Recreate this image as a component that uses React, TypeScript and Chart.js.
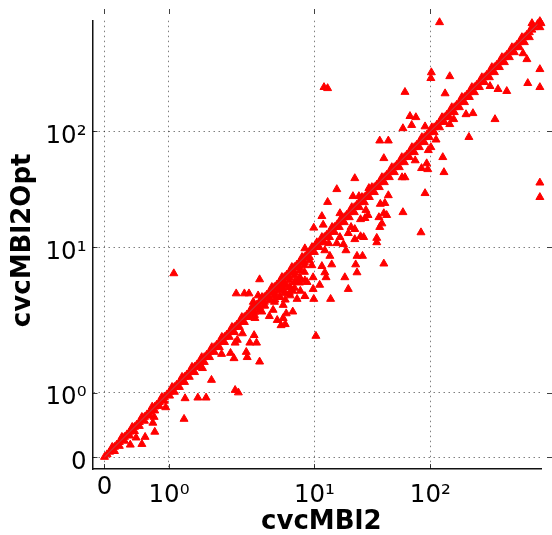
import React, { useEffect, useRef } from "react";
import { Chart, Scale, registerables } from "chart.js";

Chart.register(...registerables);

const tickValues = [0, 1, 10, 100];
const tickLabels = ["0", "10⁰", "10¹", "10²"];
const axisMin = -0.186;
const axisMax = 900;

// points lying on the diagonal (cvcMBl2 == cvcMBl2Opt)
const diagonalValues = [
  0, 0.04, 0.08, 0.12, 0.155, 0.19, 0.23, 0.27, 0.31, 0.35, 0.39, 0.43, 0.465, 0.5, 0.54, 0.58,
  0.62, 0.66, 0.7, 0.74, 0.78, 0.81, 0.85, 0.89, 0.93, 0.97, 1.01, 1.05,
  1.09, 1.13, 1.18, 1.23, 1.28, 1.33, 1.38, 1.44, 1.5, 1.56, 1.62, 1.68, 1.75, 1.82, 1.9, 1.97,
  2.05, 2.13, 2.22, 2.31, 2.41, 2.5, 2.6, 2.71, 2.82, 2.93, 3.05, 3.17, 3.3, 3.44, 3.58, 3.72,
  3.87, 4.03, 4.2, 4.36, 4.53, 4.71, 4.9, 5.1, 5.31, 5.53, 5.75, 5.98, 6.22, 6.47, 6.73, 7.0,
  7.29, 7.59, 7.9, 8.22, 8.54, 8.88, 9.25, 9.62, 10, 10.5,
  11, 11.6, 12.2, 12.8, 13.5, 14.2, 14.9, 15.7, 16.4, 17.2, 18.1, 19, 20, 21, 22.1, 23.2, 24.4,
  25.7, 27, 28.4, 29.8, 31.3, 32.9, 34.6, 36.3, 38.2, 40.1, 42.1, 44.3, 46.5, 48.9, 51.4,
  54, 56.7, 59.7, 62.8, 65.9, 69.3, 72.8, 76.5, 80.4, 84.5, 88.8, 93.3, 98, 103, 108, 114, 120,
  126, 132, 139, 146, 153, 161, 169, 178, 187, 197, 207, 217, 228, 240, 252, 265, 278,
  292, 307, 323, 339, 357, 375, 394, 414, 435, 457, 480, 505, 530, 558, 586, 616, 647, 680,
  714, 751, 789, 840,
];

// points just above the diagonal
const upperX = [
  0.12, 0.27, 0.43, 0.58, 0.74, 0.89, 1.05, 1.23, 1.44, 1.68, 1.97, 2.31, 2.71, 3.17, 3.72, 4.36,
  5.1, 5.98, 7.0, 8.22, 9.62, 11.6, 14.2, 17.2, 21, 25.7, 31.3, 38.2, 46.5, 56.7, 69.3, 84.5,
  103, 126, 153, 187, 228, 278, 339, 414, 505, 616, 751,
];
const upperY = [
  0.155, 0.31, 0.465, 0.62, 0.78, 0.93, 1.09, 1.28, 1.5, 1.75, 2.05, 2.41, 2.82, 3.3, 3.87, 4.53,
  5.31, 6.22, 7.29, 8.54, 10, 12.2, 14.9, 18.1, 22.1, 27, 32.9, 40.1, 48.9, 59.7, 72.8, 88.8,
  108, 132, 161, 197, 240, 292, 357, 435, 530, 647, 789,
];

// points just under the diagonal
const nearX = [
  0.155, 0.23, 0.31, 0.39, 0.465, 0.54, 0.62, 0.7, 0.78, 0.85, 0.93, 1.01, 1.09, 1.18, 1.28, 1.38,
  1.5, 1.62, 1.75, 1.9, 2.05, 2.22, 2.41, 2.6, 2.82, 3.05, 3.3, 3.58, 3.87, 4.2, 4.53, 4.9, 5.31,
  5.75, 6.22, 6.73, 7.29, 7.9, 8.54, 9.25, 10, 11, 12.2, 13.5, 14.9, 16.4, 18.1, 20, 22.1, 24.4,
  27, 29.8, 32.9, 36.3, 40.1, 44.3, 48.9, 54, 59.7, 65.9, 72.8, 80.4, 88.8, 98, 108, 120, 132,
  146, 161, 178, 197, 217, 240, 265, 292, 323, 357, 394, 435, 480, 530, 586, 647, 714,
];
const nearY = [
  0.09, 0.17, 0.25, 0.33, 0.4, 0.48, 0.56, 0.64, 0.72, 0.79, 0.87, 0.95, 1.01, 1.09, 1.18, 1.28,
  1.38, 1.5, 1.62, 1.75, 1.9, 2.05, 2.22, 2.41, 2.6, 2.82, 3.05, 3.3, 3.58, 3.87, 4.2, 4.53, 4.9,
  5.31, 5.75, 6.22, 6.73, 7.29, 7.9, 8.54, 9.25, 10, 11, 12.2, 13.5, 14.9, 16.4, 18.1, 20, 22.1,
  24.4, 27, 29.8, 32.9, 36.3, 40.1, 44.3, 48.9, 54, 59.7, 65.9, 72.8, 80.4, 88.8, 98, 108, 120,
  132, 146, 161, 178, 197, 217, 240, 265, 292, 323, 357, 394, 435, 480, 530, 586, 647,
];

// the dense wedge under the diagonal between 3 and 10
const wedgeX = [
  3.87, 4.2, 4.53, 4.9, 5.31, 5.75, 6.22, 6.73, 7.29, 7.9, 8.54, 9.25,
  5.31, 5.75, 6.22, 6.73, 7.29, 7.9, 8.54, 6, 6.73, 7.29, 7.9,
];
const wedgeY = [
  3.41, 3.7, 3.98, 4.3, 4.67, 5.05, 5.47, 5.9, 6.4, 6.9, 7.5, 8.1,
  4.2, 4.55, 4.9, 5.3, 5.75, 6.2, 6.75, 5.3, 4.85, 5.25, 5.7,
];

// points away from the diagonal
const outlierX = [
  120, 102, 101, 147, 60.4, 66.7, 75, 69, 58, 134, 90, 203, 233, 361, 215, 327, 383, 456, 692,
  880, 880, 680, 630, 147, 159, 752, 880, 900, 880, 880, 880,
  12.1, 13, 36.6, 43.4, 39.7, 112, 101, 96, 128, 131, 93, 84, 95, 74, 57, 60.4, 90, 58, 83,
  22.3, 15.6, 13, 21.5, 24.2, 29.5, 43.4, 40.5, 37, 27.8, 29, 25, 27.3, 36, 39.7, 42, 38.2, 36.6,
  16.6, 11.6, 9.9, 11.9, 20.7, 22.3, 19.6, 22.3, 25, 26.6, 34.5, 34.5, 16.6, 15.6, 17.8, 18.7,
  12.3, 13.3, 8.6, 10.5, 23.3, 26, 22.7, 23.3, 39.7, 14.1, 11.6, 12.3, 9.8, 18.3, 12.6, 9.6,
  4.2, 2.9, 3.3, 3.55, 4.1, 3.8, 19.6, 13.8, 9.9, 10.3, 9.8, 8.6, 7.6, 7.1, 6.4, 6.1, 5.55, 4.9,
  5.2, 3.85, 3.6, 4, 2.85, 2.3, 2.65, 3.4, 3.45, 11.1, 8.9, 13.6,
  5.8, 6.3, 6.8, 7.4, 8, 5.35, 6.8, 8.6, 8, 6.3, 5.8, 7.1, 7.7, 4.55, 4.35, 3.9, 6.3, 6.1, 5.9, 6.3,
  1.96, 1.29, 1.58, 1.8, 1.27, 2.85, 3, 0.95, 0.75, 0.63, 0.78, 2.8, 4.2, 1.7, 2.95, 3.2,
  0.58, 0.49, 0.4, 0.77, 1.08,
];
const outlierY = [
  871, 322, 287, 298, 218, 135, 132, 113, 106, 212, 110, 140, 143, 127, 89, 245, 231, 222, 260,
  240, 343, 418, 470, 115, 127, 855, 890, 855, 789, 36, 27,
  240, 235, 83, 83, 58.5, 84.6, 72.8, 68.6, 59.7, 44.3, 52.8, 48, 47, 56, 40, 40, 29.2, 20, 13.4,
  39.3, 31.6, 24.5, 27.5, 27.5, 32.3, 28, 24, 23.6, 20.9, 18.9, 17.4, 17.8, 18.1, 19.6, 18.9, 16, 14.9,
  19.6, 18.5, 14.7, 15.6, 14.9, 14.3, 13.2, 11.7, 12.4, 12.2, 12, 11, 12.2, 10.8, 10.6, 9.5,
  9.5, 10.8, 9.8, 11, 8.7, 8.7, 7.6, 6.7, 7.7, 7.6, 7.4, 6.7, 6.2, 6.2, 6.2, 7.5,
  6, 4.8, 4.8, 4.8, 4.65, 4.2, 5.15, 4.4, 4.4, 2.45, 5.15, 4.6, 4.4, 3.6, 3.5, 4, 3.15, 3.35,
  3.7, 2.48, 2.2, 2.2, 2.2, 1.84, 1.87, 1.9, 1.75, 5.5, 5.75, 8.7,
  4.53, 4.8, 5.3, 5.75, 5, 4.35, 4.65, 5.9, 6.1, 5.5, 5.2, 5, 5.85, 3.95, 3.6, 3.25, 4.35, 3.25, 2.9, 2.95,
  1.22, 0.91, 0.92, 0.92, 0.59, 1.04, 1, 0.77, 0.53, 0.31, 0.39, 1.72, 1.63, 1.47, 2.3, 2.55,
  0.2, 0.3, 0.19, 0.62, 6.6,
];

function axisPosition(v: number): number {
  if (v < 1) return v * 64.5;
  if (v < 10) return 64.5 + 145.5 * Math.log10(v);
  return 210 + 116 * (Math.log10(v) - 1);
}

class DecadeScale extends Scale {
  static id = "decade";
  static defaults = {};
  determineDataLimits() {
    this.min = (this.options as any).min;
    this.max = (this.options as any).max;
  }
  buildTicks() {
    return tickValues.map((value) => ({ value }));
  }
  getLabelForValue(v: number) {
    return String(v);
  }
  getPixelForValue(v: number) {
    const lo = axisPosition(this.min);
    const hi = axisPosition(this.max);
    return this.getPixelForDecimal((axisPosition(v) - lo) / (hi - lo));
  }
  getValueForPixel() {
    return 0;
  }
}
Chart.register(DecadeScale as any);

const tickMarks = {
  id: "tickMarks",
  afterDatasetsDraw(chart: any) {
    const { ctx, chartArea, scales } = chart;
    ctx.save();
    ctx.strokeStyle = "#000";
    ctx.globalAlpha = 0.75;
    ctx.lineWidth = 1;
    for (const v of tickValues) {
      const px = Math.round(scales.x.getPixelForValue(v)) + 0.5;
      const py = Math.round(scales.y.getPixelForValue(v)) + 0.5;
      ctx.beginPath();
      ctx.moveTo(px, chartArea.bottom);
      ctx.lineTo(px, chartArea.bottom - 5);
      ctx.moveTo(px, 9);
      ctx.lineTo(px, 14);
      ctx.moveTo(chartArea.left, py);
      ctx.lineTo(chartArea.left + 5, py);
      ctx.moveTo(547, py);
      ctx.lineTo(552, py);
      ctx.stroke();
    }
    ctx.restore();
  },
};

const toPoints = (xs: number[], ys: number[]) => xs.map((x, i) => ({ x, y: ys[i] }));

export default function App() {
  const ref = useRef<HTMLCanvasElement>(null);
  useEffect(() => {
    const grid = {
      color: "rgba(0,0,0,0.5)",
      lineWidth: 1,
      drawTicks: false,
    };
    const border = { display: true, color: "#111", width: 1.5, dash: [1.5, 3.5] };
    const family = "'DejaVu Sans'";
    const titleFont = { family, size: 26, weight: "bold" as const, lineHeight: 1 };
    const tickCb = (v: number) => tickLabels[tickValues.indexOf(v)];
    const markerStyle = {
      type: "scatter" as const,
      pointStyle: "triangle",
      pointRadius: 4.6,
      pointBackgroundColor: "#ff0000",
      pointBorderColor: "#ff0000",
      pointBorderWidth: 1,
      clip: false as const,
    };
    const chart = new Chart(ref.current!, {
      type: "scatter",
      data: {
        datasets: [
          {
            type: "scatter",
            label: "y = x",
            data: [{ x: 0, y: 0 }, { x: 840, y: 840 }],
            showLine: true,
            borderColor: "rgba(130,130,130,0.7)",
            borderWidth: 1,
            pointRadius: 0,
            clip: false,
          },
          { label: "diagonal", data: diagonalValues.map((v) => ({ x: v, y: v })), ...markerStyle },
          { label: "upper", data: toPoints(upperX, upperY), ...markerStyle },
          { label: "near", data: toPoints(nearX, nearY), ...markerStyle },
          { label: "wedge", data: toPoints(wedgeX, wedgeY), ...markerStyle },
          { label: "outliers", data: toPoints(outlierX, outlierY), ...markerStyle },
        ],
      },
      options: {
        responsive: false,
        animation: false,
        layout: { padding: { top: 20, right: 11, left: 0, bottom: 0 } },
        plugins: { legend: { display: false }, tooltip: { enabled: false } },
        scales: {
          x: {
            type: "decade" as any,
            position: "bottom",
            min: axisMin,
            max: axisMax,
            grid,
            border,
            afterFit: (s: any) => {
              s.height = 66;
            },
            ticks: {
              callback: tickCb as any,
              font: (c: any) => ({ family, size: 24.5, lineHeight: c.index === 0 ? 1.2 : 1.81 }),
              color: "#000",
              padding: 4,
              autoSkip: false,
              maxRotation: 0,
            },
            title: { display: true, text: " cvcMBl2", font: titleFont, color: "#000", padding: 0 },
          },
          y: {
            type: "decade" as any,
            position: "left",
            min: axisMin,
            max: axisMax,
            grid,
            border,
            afterFit: (s: any) => {
              s.width = 92.5;
            },
            ticks: {
              callback: tickCb as any,
              font: { family, size: 24.5 },
              color: "#000",
              padding: 6,
              autoSkip: false,
              labelOffset: (c: any) => (c.index === 0 ? 2.5 : 5.5),
            },
            title: { display: true, text: " cvcMBl2Opt", font: titleFont, color: "#000", padding: { top: 10, bottom: 0 } },
          },
        },
      },
      plugins: [tickMarks],
    } as any);
    return () => chart.destroy();
  }, []);
  return (
    <canvas
      ref={ref}
      width={552}
      height={535}
      style={{ position: "absolute", left: 0, top: 0, width: 552, height: 535 }}
    />
  );
}
